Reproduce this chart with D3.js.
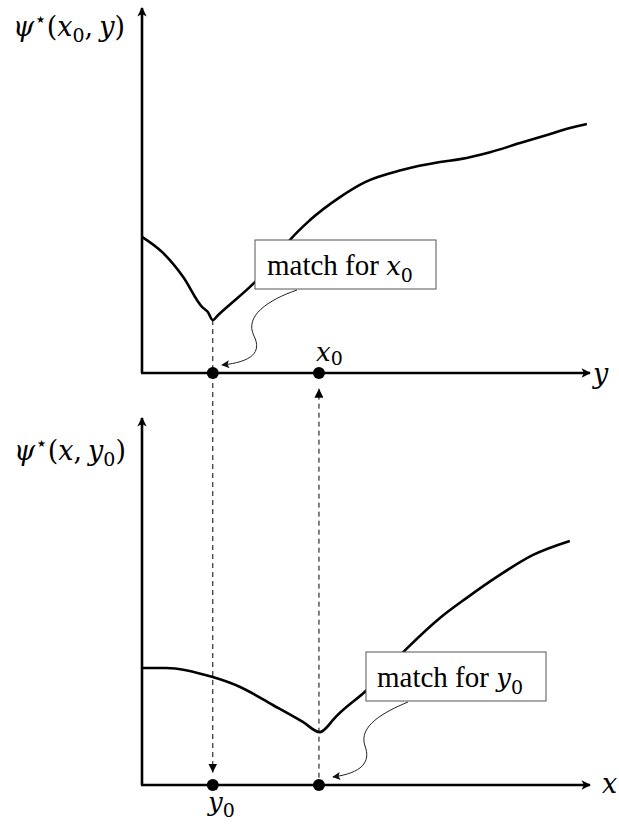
<!DOCTYPE html>
<html><head><meta charset="utf-8">
<script src="https://cdn.jsdelivr.net/npm/d3@7"></script>
<style>body{margin:0;background:#fff}svg{display:block}</style>
</head><body><svg id="c" width="619" height="825"></svg>
<script>
// ---- data (axis units 0..100) ----
const topCurveX = [0, 4.7, 9.2, 13.4, 14.7, 15.8, 17.0, 24.1, 28.6, 33.0, 37.5, 44.2, 49.8, 58.0, 66.5, 71.0, 77.7, 84.4, 90.4, 95.5, 99.3];
const topCurveY = [37.3, 32.9, 26.3, 18.1, 16.7, 14.5, 15.9, 23.6, 29.0, 36.4, 41.9, 48.2, 52.3, 55.6, 57.8, 58.6, 60.5, 63.0, 65.2, 67.1, 68.2];
const bottomCurveX = [0, 5.4, 15.8, 21.9, 29.2, 35.9, 39.7, 41.3, 42.6, 50.2, 59.2, 66.5, 72.5, 79.2, 87.3, 95.5];
const bottomCurveY = [31.9, 31.9, 29.4, 26.7, 21.8, 17.2, 14.4, 15.8, 17.7, 25.9, 37.3, 45.5, 51.0, 56.7, 62.7, 66.5];
const pointX = [15.8, 39.5];          // y0 position, x0 position on the horizontal axis
const topPointLabels = ["", "x"];
const bottomPointLabels = ["y", ""];
const calloutTexts = ["match for ", "match for "];
const calloutVars = ["x", "y"];

const svg = d3.select("#c");
svg.append("rect").attr("width", 619).attr("height", 825).attr("fill", "#fff");

const x = d3.scaleLinear([0, 100], [142, 590]);
const yTop = d3.scaleLinear([0, 100], [373, 8]);
const yBot = d3.scaleLinear([0, 100], [785, 418]);

const defs = svg.append("defs");
defs.append("marker").attr("id", "axArrow").attr("viewBox", "0 0 10 10")
  .attr("refX", 9).attr("refY", 5).attr("markerWidth", 4.3).attr("markerHeight", 3.6)
  .attr("markerUnits", "strokeWidth").attr("orient", "auto")
  .append("path").attr("d", "M0,0 L10,5 L0,10 L2.5,5 Z").attr("fill", "#000");
defs.append("marker").attr("id", "dashArrow").attr("viewBox", "0 0 10 10")
  .attr("refX", 10).attr("refY", 5).attr("markerWidth", 9).attr("markerHeight", 9)
  .attr("markerUnits", "userSpaceOnUse").attr("orient", "auto")
  .append("path").attr("d", "M0,0 L10,5 L0,10 Z").attr("fill", "#000");
defs.append("marker").attr("id", "curlArrow").attr("viewBox", "0 0 10 10")
  .attr("refX", 9).attr("refY", 5).attr("markerWidth", 10).attr("markerHeight", 8)
  .attr("markerUnits", "userSpaceOnUse").attr("orient", "auto")
  .append("path").attr("d", "M0,0 L10,5 L0,10 L2,5 Z").attr("fill", "#111");

const serif = "'Liberation Serif', Tinos, 'DejaVu Serif', serif";
const math = "'DejaVu Serif', serif";

function drawPanel(yS, cx, cy) {
  svg.append("line").attr("x1", x(0)).attr("y1", yS(0)).attr("x2", x(0)).attr("y2", yS(100))
    .attr("stroke", "#000").attr("stroke-width", 2.6).attr("marker-end", "url(#axArrow)");
  svg.append("line").attr("x1", x(0) - 1).attr("y1", yS(0)).attr("x2", x(100)).attr("y2", yS(0))
    .attr("stroke", "#000").attr("stroke-width", 2.6).attr("marker-end", "url(#axArrow)");
  const pts = cx.map((v, i) => [v, cy[i]]);
  svg.append("path").datum(pts)
    .attr("d", d3.line().x(d => x(d[0])).y(d => yS(d[1])).curve(d3.curveMonotoneX))
    .attr("fill", "none").attr("stroke", "#000").attr("stroke-width", 2.6).attr("stroke-linejoin", "round");
}
drawPanel(yTop, topCurveX, topCurveY);
drawPanel(yBot, bottomCurveX, bottomCurveY);

svg.append("line").attr("x1", x(pointX[0])).attr("y1", yTop(14.5)).attr("x2", x(pointX[0])).attr("y2", yBot(3.4))
  .attr("stroke", "#000").attr("stroke-width", 1).attr("stroke-dasharray", "5,4").attr("marker-end", "url(#dashArrow)");
svg.append("line").attr("x1", x(pointX[1])).attr("y1", yBot(2)).attr("x2", x(pointX[1])).attr("y2", yTop(-4.3))
  .attr("stroke", "#000").attr("stroke-width", 1).attr("stroke-dasharray", "5,4").attr("marker-end", "url(#dashArrow)");

[yTop, yBot].forEach(yS => {
  svg.selectAll(null).data(pointX).enter().append("circle")
    .attr("cx", d => x(d)).attr("cy", yS(0)).attr("r", 6).attr("fill", "#000");
});

function callout(bx, by, bw, bh, txt, v, path, tx, ty) {
  svg.append("rect").attr("x", bx).attr("y", by).attr("width", bw).attr("height", bh)
    .attr("fill", "#fff").attr("stroke", "#555").attr("stroke-width", 1);
  const t = svg.append("text").attr("x", tx).attr("y", ty).attr("font-family", serif).attr("font-size", 29).attr("fill", "#000");
  t.append("tspan").text(txt);
  t.append("tspan").attr("font-family", math).attr("font-style", "italic").attr("font-size", 26).text(v);
  t.append("tspan").attr("font-family", math).attr("font-size", 19).attr("dy", 7).text("0");
  svg.append("path").attr("d", path).attr("fill", "none").attr("stroke", "#222").attr("stroke-width", 1)
    .attr("marker-end", "url(#curlArrow)");
}
callout(255, 240, 181, 49, calloutTexts[0], calloutVars[0],
  "M297,290 C268,300 244,316 254,336 C262,352 252,362 222,365", 267, 275);
callout(366, 652, 180, 49, calloutTexts[1], calloutVars[1],
  "M408,702 C384,712 358,726 365,746 C371,762 362,773 333,777", 377, 687);

function varLabel(px, py, v, sub) {
  const t = svg.append("text").attr("x", px).attr("y", py).attr("font-family", math).attr("font-size", 26).attr("fill", "#000");
  t.append("tspan").attr("font-style", "italic").text(v);
  t.append("tspan").attr("font-size", 19).attr("dy", sub).text("0");
}
varLabel(316, 361, topPointLabels[1], 4);
varLabel(208, 811, bottomPointLabels[0], 6);

svg.append("text").attr("x", 593).attr("y", 383).attr("font-family", math).attr("font-style", "italic").attr("font-size", 27).text("y");
svg.append("text").attr("x", 602).attr("y", 793).attr("font-family", math).attr("font-style", "italic").attr("font-size", 27).text("x");

function psiLabel(px, py, a, aSub, b, bSub) {
  const t = svg.append("text").attr("x", px).attr("y", py).attr("font-family", math).attr("font-size", 27).attr("fill", "#000");
  t.append("tspan").attr("font-style", "italic").text("ψ");
  t.append("tspan").attr("font-family", "'DejaVu Sans', sans-serif").attr("font-size", 20).attr("dy", -10).text("⋆");
  t.append("tspan").attr("dy", 10).text("(");
  t.append("tspan").attr("font-style", "italic").text(a);
  if (aSub) { t.append("tspan").attr("font-size", 19).attr("dy", 6).text(aSub); t.append("tspan").attr("dy", -6).text(","); }
  else t.append("tspan").text(",");
  t.append("tspan").attr("font-style", "italic").attr("dx", 6).text(b);
  if (bSub) { t.append("tspan").attr("font-size", 19).attr("dy", 6).text(bSub); t.append("tspan").attr("dy", -6).text(")"); }
  else t.append("tspan").text(")");
}
psiLabel(13, 36, "x", "0", "y", "");
psiLabel(14, 460, "x", "", "y", "0");
</script></body></html>
